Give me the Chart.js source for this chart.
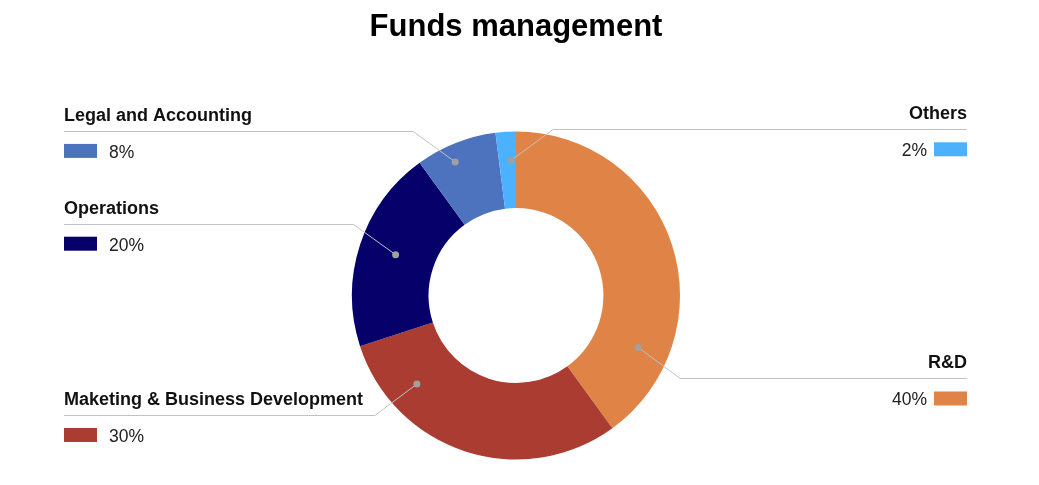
<!DOCTYPE html>
<html>
<head>
<meta charset="utf-8">
<title>Funds management</title>
<script src="https://cdn.jsdelivr.net/npm/chart.js@4"></script>
<style>
  html, body { margin: 0; padding: 0; background: #fff; }
  #wrap { width: 1039px; height: 485px; position: relative; }
</style>
</head>
<body>
<div id="wrap"><canvas id="funds"></canvas></div>
<script>
// data
const categories = ['R&D', 'Maketing & Business Development', 'Operations', 'Legal and Accounting', 'Others']
const shares = [40, 30, 20, 8, 2]
const sliceColors = ['#df8446', '#ab3c32', '#06006b', '#4e73be', '#4cb2ff']

// where the grey dot sits inside each slice (fraction of the sweep, fraction of outer radius)
// and which side its label goes to
const dotAnchors = [
  { along: 0.785, depth: 0.81, side: 'right' },
  { along: 0.78, depth: 0.81, side: 'left' },
  { along: 0.51, depth: 0.775, side: 'left' },
  { along: 0.40, depth: 0.895, side: 'left' },
  { along: 0.71, depth: 0.825, side: 'right' }
]

const FONT = '"Liberation Sans", Arial, Helvetica, sans-serif'

const leaderLabels = {
  id: 'leaderLabels',
  afterDatasetsDraw(chart, args, opts) {
    const ctx = chart.ctx
    const meta = chart.getDatasetMeta(0)
    const total = shares.reduce(function(a, b) { return a + b }, 0)

    ctx.save()
    meta.data.forEach(function(arc, i) {
      const p = arc.getProps(['x', 'y', 'startAngle', 'endAngle', 'outerRadius'], true)
      const anchor = dotAnchors[i]
      const ang = p.startAngle + (p.endAngle - p.startAngle) * anchor.along
      const r = p.outerRadius * anchor.depth
      const dotX = p.x + Math.cos(ang) * r
      const dotY = p.y + Math.sin(ang) * r

      const left = anchor.side === 'left'
      const up = dotY < p.y
      const rowY = dotY + (up ? -opts.rise : opts.rise)
      const elbowX = dotX + (left ? -opts.run : opts.run)
      const edgeX = left ? opts.leftX : opts.rightX

      // leader line
      ctx.strokeStyle = '#c2c2c2'
      ctx.lineWidth = 1
      ctx.beginPath()
      ctx.moveTo(edgeX, Math.round(rowY) + 0.5)
      ctx.lineTo(elbowX, Math.round(rowY) + 0.5)
      ctx.lineTo(dotX, dotY)
      ctx.stroke()

      ctx.fillStyle = '#a0a0a0'
      ctx.beginPath()
      ctx.arc(dotX, dotY, 3.5, 0, Math.PI * 2)
      ctx.fill()

      // category name above the line
      ctx.fillStyle = '#111'
      ctx.font = 'bold 18px ' + FONT
      ctx.textBaseline = 'alphabetic'
      ctx.textAlign = left ? 'left' : 'right'
      ctx.fillText(categories[i], edgeX, rowY - 10)

      // swatch and percent below the line
      const pct = Math.round(shares[i] / total * 100) + '%'
      const swX = left ? edgeX : edgeX - 33
      ctx.fillStyle = sliceColors[i]
      ctx.fillRect(swX, rowY + 13, 33, 14)

      ctx.fillStyle = '#222'
      ctx.font = '17.5px ' + FONT
      if (left) {
        ctx.textAlign = 'left'
        ctx.fillText(pct, edgeX + 45, rowY + 27)
      } else {
        ctx.textAlign = 'right'
        ctx.fillText(pct, edgeX - 40, rowY + 27)
      }
    })
    ctx.restore()
  }
}

const chart = new Chart(document.getElementById('funds'), {
  type: 'doughnut',
  data: {
    labels: categories,
    datasets: [{
      data: shares,
      backgroundColor: sliceColors,
      borderWidth: 0,
      hoverOffset: 0
    }]
  },
  options: {
    responsive: true,
    maintainAspectRatio: false,
    animation: false,
    cutout: '53.3%',
    layout: { padding: { left: 0, right: 7, top: 0, bottom: 25.5 } },
    plugins: {
      legend: { display: false },
      tooltip: { enabled: false },
      title: {
        display: true,
        text: 'Funds management',
        color: '#000',
        font: { family: FONT, size: 31, weight: 'bold', lineHeight: 1.2 },
        padding: { top: 9, bottom: 85.3 }
      },
      leaderLabels: { rise: 31, run: 42, leftX: 64, rightX: 967 }
    }
  },
  plugins: [leaderLabels]
})
</script>
</body>
</html>
